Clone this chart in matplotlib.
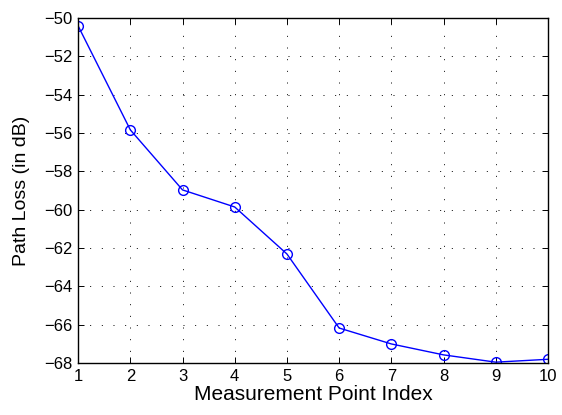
import matplotlib
matplotlib.use('Agg')
import matplotlib.pyplot as plt
import numpy as np

plt.rcParams['font.family'] = ['Liberation Sans', 'DejaVu Sans']

idx = np.arange(1, 11)
loss = [-50.42, -55.84, -58.97, -59.86, -62.31, -66.17, -67.0, -67.57, -67.95, -67.8]

fig = plt.figure(figsize=(5.62, 4.15), dpi=100)
ax = fig.add_axes([0.139, 0.125, 0.836, 0.832])

ax.plot(idx, loss, color='#0000ff', lw=1, marker='o', ms=7, mfc='none', mec='#0000ff', mew=1)

ax.set_xlim(1, 10)
ax.set_ylim(-68, -50)
ax.set_xticks(idx)
ax.set_yticks(np.arange(-68, -49, 2))
ax.set_yticklabels([f'\u2212{abs(v)}' for v in range(-68, -49, 2)])
ax.grid(True, color='black', linestyle=(0, (1, 11)), lw=0.7)
ax.tick_params(direction='in', top=True, right=True, labelsize=12, length=4, width=0.7, pad=4)
for s in ax.spines.values():
    s.set_linewidth(1)
ax.set_xlabel('Measurement Point Index', fontsize=15, labelpad=1)
ax.set_ylabel('Path Loss (in dB)', fontsize=14, labelpad=10)

plt.savefig('out.png', dpi=100)
